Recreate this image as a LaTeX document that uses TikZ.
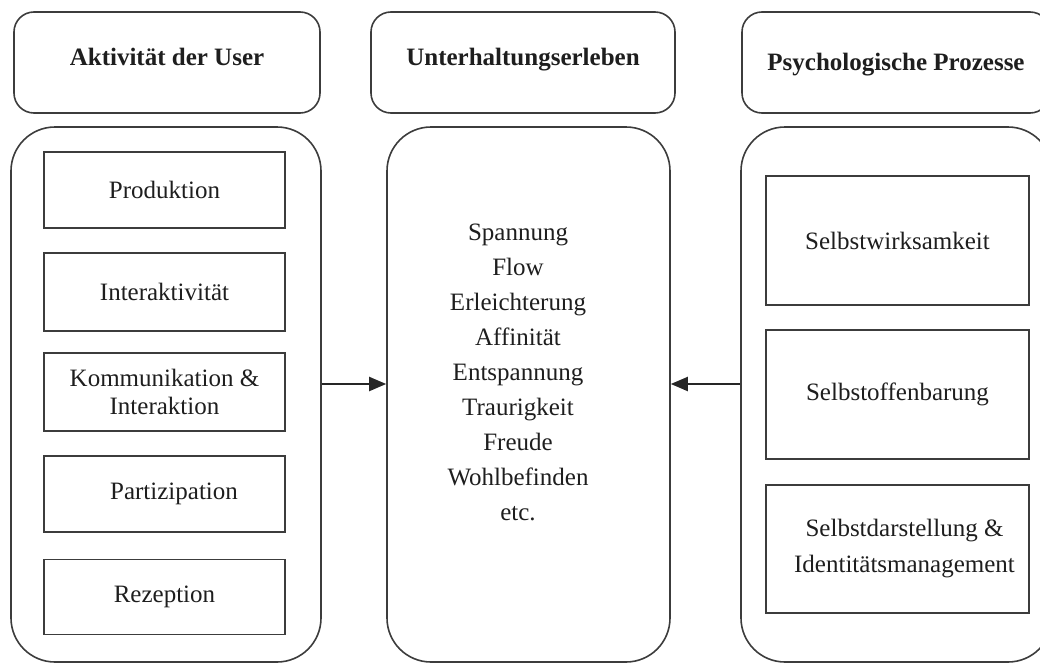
\documentclass[tikz,border=0pt]{standalone}
\usepackage{fontspec}
\setmainfont{Liberation Serif}
\usetikzlibrary{arrows.meta, positioning}
\definecolor{linegray}{HTML}{3C3C3C}
\definecolor{textdark}{HTML}{1E1E1E}

\begin{document}
\begin{tikzpicture}[
    x=0.5pt, y=-0.5pt,
    hdr/.style={draw=linegray, line width=0.8pt, rounded corners=10pt, minimum height=50.5pt,
        inner sep=0pt, text=textdark, text height=8.5pt, text depth=5.5pt,
        font=\fontsize{12.5}{15}\selectfont\bfseries},
    pnl/.style={draw=linegray, line width=0.8pt, rounded corners=22pt, minimum height=267.5pt, inner sep=0pt},
    itm/.style={draw=linegray, line width=0.7pt, inner sep=0pt, align=center, text=textdark,
        font=\fontsize{12.5}{14}\selectfont},
    arr/.style={-{Triangle[length=8.5pt, width=7pt]}, line width=1pt, draw=black!85},
]
\useasboundingbox (0,0) rectangle (1040,664);
\clip (0,0) rectangle (1040,664);
% === Headers ===
\node[hdr, minimum width=153pt] (hdrUser) at (167, 62.5) {Aktivität der User};
\node[hdr, minimum width=152pt] (hdrErleben) at (523, 62.5) {Unterhaltungserleben};
\node[hdr, minimum width=154pt, text depth=1pt] (hdrProzesse) at (896, 62.5) {Psychologische Prozesse};
% === Panels ===
\node[pnl, minimum width=155pt] (pnlUser) at (166, 394.5) {};
\node[pnl, minimum width=141.5pt] (pnlErleben) at (528.5, 394.5) {};
\node[pnl, minimum width=155.5pt] (pnlProzesse) at (896.5, 394.5) {};
% === Left panel: user activities ===
\node[itm, minimum width=120.5pt, minimum height=38pt] (produktion) at (164.5, 190) {Produktion};
\node[itm, minimum width=120.5pt, minimum height=39pt] (interaktiv) at (164.5, 292) {Interaktivität};
\node[itm, minimum width=120.5pt, minimum height=39pt] (kommunikation) at (164.5, 392) {Kommunikation \&\\Interaktion};
\node[itm, minimum width=120.5pt, minimum height=38pt] (partizipation) at (164.5, 494) {\hspace*{9.5pt}Partizipation};
\node[itm, minimum width=120.5pt, minimum height=37.5pt] (rezeption) at (164.5, 597) {Rezeption};
% === Center panel: entertainment experience ===
\node[align=center, text=textdark, font=\fontsize{12.5}{17.5}\selectfont] (gefuehle) at (518, 372)
    {Spannung\\Flow\\Erleichterung\\Affinität\\Entspannung\\Traurigkeit\\Freude\\Wohlbefinden\\etc.};
% === Right panel: psychological processes ===
\node[itm, minimum width=131.5pt, minimum height=64.5pt] (wirksam) at (897.5, 240.5) {Selbstwirksamkeit};
\node[itm, minimum width=131.5pt, minimum height=64.5pt] (offenbarung) at (897.5, 394.5) {Selbstoffenbarung};
\node[itm, minimum width=131.5pt, minimum height=64pt, font=\fontsize{12.5}{18}\selectfont] (darstellung) at (897.5, 549)
    {\hspace*{7pt}Selbstdarstellung \&\\\hspace*{7pt}Identitätsmanagement};
% === Arrows ===
\draw[arr] ([yshift=5.25pt]pnlUser.east) -- ([yshift=5.25pt]pnlErleben.west);
\draw[arr] ([yshift=5.25pt]pnlProzesse.west) -- ([yshift=5.25pt]pnlErleben.east);
\end{tikzpicture}
\end{document}
